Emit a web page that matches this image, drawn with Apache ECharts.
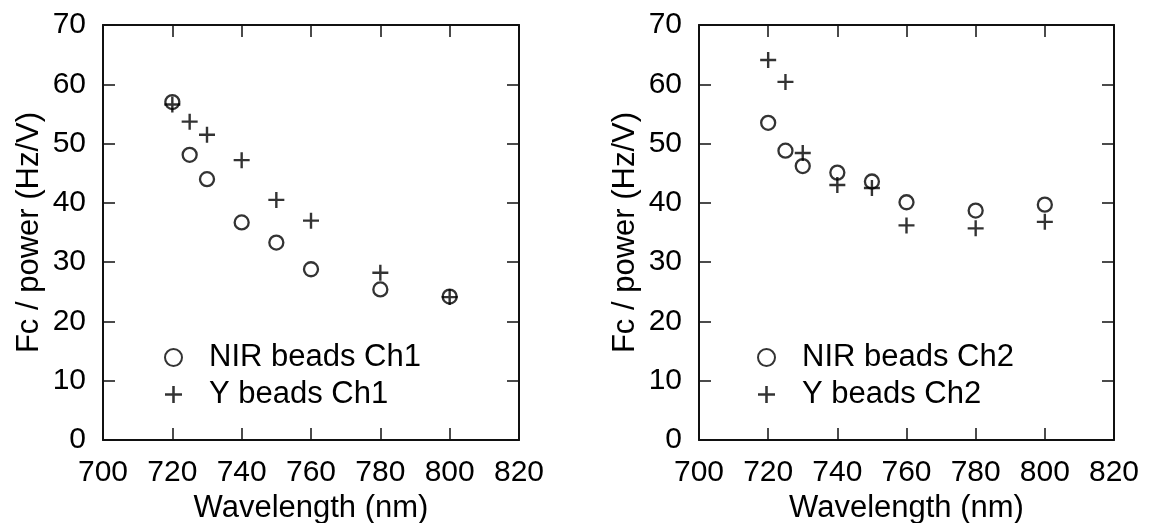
<!DOCTYPE html>
<html>
<head>
<meta charset="utf-8">
<script src="https://cdn.jsdelivr.net/npm/echarts@6/dist/echarts.min.js"></script>
<style>
  html, body { margin: 0; padding: 0; background: #fff; }
  #chart { width: 1151px; height: 523px; }
</style>
</head>
<body>
<div id="chart"></div>
<script>
// wavelengths (nm)
const wavelengths = [720, 725, 730, 740, 750, 760, 780, 800]

// Ch1 values (Hz/V)
const nirCh1 = [57.0, 48.1, 44.0, 36.7, 33.3, 28.8, 25.4, 24.2]
const yCh1 = [56.6, 53.7, 51.5, 47.2, 40.5, 37.0, 28.2, 24.1]

// Ch2 values (Hz/V)
const nirCh2 = [53.5, 48.8, 46.2, 45.1, 43.6, 40.1, 38.7, 39.7]
const yCh2 = [64.1, 60.4, 48.4, 43.0, 42.5, 36.2, 35.7, 36.8]

const xTicks = { min: 700, max: 820, interval: 20 }
const yTicks = { min: 0, max: 70, interval: 10 }

const FONT = 'Liberation Sans'
const plusPath = 'path://M-1.2,-8L1.2,-8L1.2,-1.2L8,-1.2L8,1.2L1.2,1.2L1.2,8L-1.2,8L-1.2,1.2L-8,1.2L-8,-1.2L-1.2,-1.2Z'

const toPairs = (ys) => wavelengths.map((x, i) => [x, ys[i]])

// 坐标轴 (bottom/left with labels, top/right mirrored ticks only)
const makeX = (grid, top) => ({
  type: 'value',
  gridIndex: grid,
  position: top ? 'top' : 'bottom',
  ...xTicks,
  name: top ? '' : 'Wavelength (nm)',
  nameLocation: 'middle',
  nameGap: 46,
  nameTextStyle: { fontFamily: FONT, fontSize: 31, color: '#000' },
  axisLine: { show: true, onZero: false, lineStyle: { color: '#111', width: 2 } },
  axisTick: { show: true, inside: true, length: 12, lineStyle: { color: '#111', width: 1.5 } },
  axisLabel: { show: !top, margin: 18, fontFamily: FONT, fontSize: 30, color: '#000' },
  splitLine: { show: false }
})

const makeY = (grid, right) => ({
  type: 'value',
  gridIndex: grid,
  position: right ? 'right' : 'left',
  ...yTicks,
  name: right ? '' : 'Fc / power (Hz/V)',
  nameLocation: 'middle',
  nameGap: 58,
  nameTextStyle: { fontFamily: FONT, fontSize: 31, color: '#000' },
  axisLine: { show: true, onZero: false, lineStyle: { color: '#111', width: 2 } },
  axisTick: { show: true, inside: true, length: 12, lineStyle: { color: '#111', width: 1.5 } },
  axisLabel: { show: !right, margin: 17, fontFamily: FONT, fontSize: 30, color: '#000' },
  splitLine: { show: false }
})

const circleSeries = (name, ys, idx) => ({
  name,
  type: 'scatter',
  xAxisIndex: idx,
  yAxisIndex: idx,
  data: toPairs(ys),
  symbol: 'circle',
  symbolSize: 14,
  itemStyle: { color: 'rgba(0,0,0,0)', borderColor: '#000', borderWidth: 2.3 },
  z: 3
})

const plusSeries = (name, ys, idx) => ({
  name,
  type: 'scatter',
  xAxisIndex: idx,
  yAxisIndex: idx,
  data: toPairs(ys),
  symbol: plusPath,
  symbolSize: 16,
  itemStyle: { color: '#000' },
  z: 2
})

const makeLegend = (left, names) => ({
  orient: 'vertical',
  left,
  top: 337,
  itemWidth: 17,
  itemHeight: 17,
  itemGap: 6,
  selectedMode: false,
  data: names,
  textStyle: { fontFamily: FONT, fontSize: 31, color: '#000', padding: [0, 0, 0, 22] }
})

const chart = echarts.init(document.getElementById('chart'))
const option = {
  backgroundColor: '#fff',
  animation: false,
  grid: [
    { left: 103, top: 25, width: 416, height: 415, outerBoundsMode: 'none' },
    { left: 699, top: 25, width: 415, height: 415, outerBoundsMode: 'none' }
  ],
  xAxis: [makeX(0, false), makeX(0, true), makeX(1, false), makeX(1, true)],
  yAxis: [makeY(0, false), makeY(0, true), makeY(1, false), makeY(1, true)],
  legend: [
    makeLegend(159, ['NIR beads Ch1', 'Y beads Ch1']),
    makeLegend(752, ['NIR beads Ch2', 'Y beads Ch2'])
  ],
  series: [
    circleSeries('NIR beads Ch1', nirCh1, 0),
    plusSeries('Y beads Ch1', yCh1, 0),
    circleSeries('NIR beads Ch2', nirCh2, 2),
    plusSeries('Y beads Ch2', yCh2, 2)
  ]
}
chart.setOption(option)
</script>
</body>
</html>
